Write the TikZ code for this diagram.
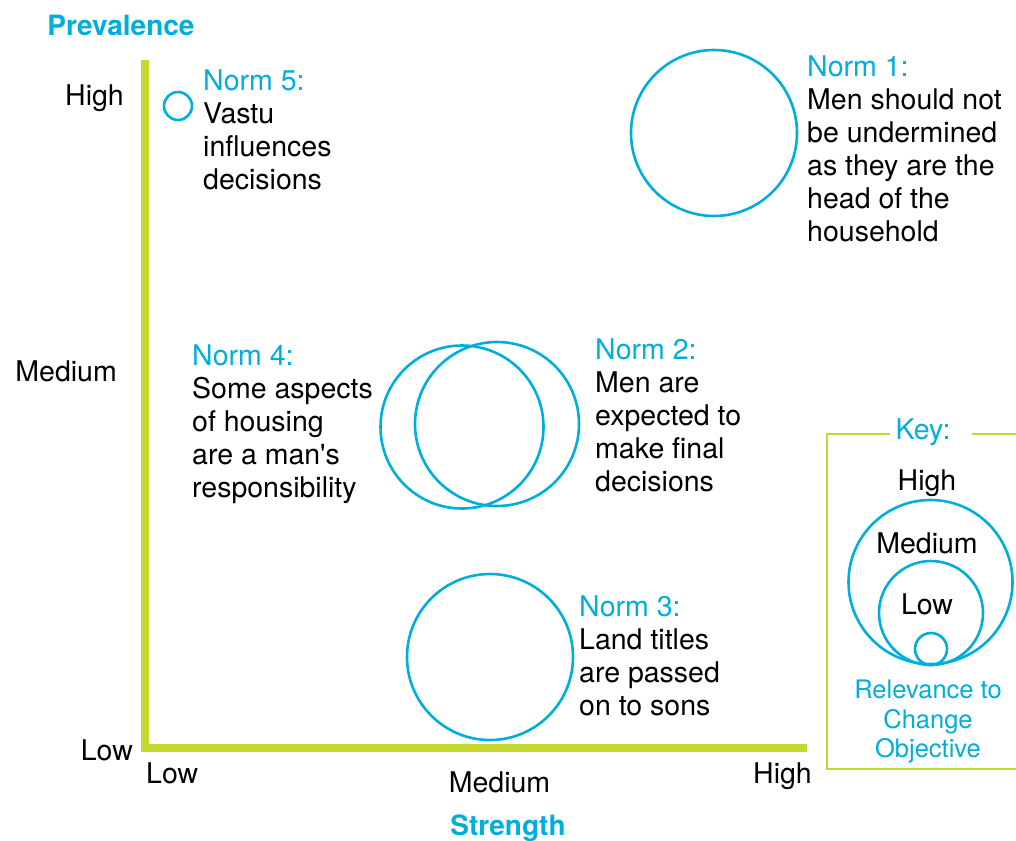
\documentclass[tikz,border=0pt]{standalone}
\usepackage{fontspec}
\setmainfont{TeX Gyre Heros}
\definecolor{cy}{RGB}{0,174,219}
\definecolor{lime}{RGB}{197,216,47}
\begin{document}
\begin{tikzpicture}[x=1pt,y=-1pt,
  ring/.style={circle,draw=cy,line width=2.6pt,inner sep=0pt,minimum size=#1},
  axisline/.style={draw=lime,line width=8pt},
  keyline/.style={draw=lime,line width=2.8pt},
  lbl/.style={inner sep=0pt,font=\fontsize{28.5}{33}\selectfont},
  block/.style={lbl,align=left,anchor=north west},
  keycap/.style={inner sep=0pt,align=center,text=cy,font=\fontsize{25.5}{29.5}\selectfont},
  head/.style={inner sep=0pt,font=\fontsize{28}{33}\selectfont\bfseries,text=cy},
]
\useasboundingbox (0,0) rectangle (1016,840);
% axes
\coordinate (top) at (145,60);
\coordinate (origin) at (145,748);
\coordinate (right) at (807,748);
\draw[axisline] (top) -- (origin) -- (right);
% axis titles
\node[head,anchor=base] (prev) at (121,36) {Prevalence};
\node[head,anchor=base] (str) at (508,835) {Strength};
% y labels
\node[lbl,anchor=base east] (yhigh) at (124,106) {High};
\node[lbl,anchor=base east] (ymed) at (117,381) {Medium};
\node[lbl,anchor=base east] (ylow) at (133,760) {Low};
% x labels
\node[lbl,anchor=base west] (xlow) at (146,783) {Low};
\node[lbl,anchor=base] (xmed) at (499.5,792) {Medium};
\node[lbl,anchor=base] (xhigh) at (782.5,783) {High};
% circles
\node[ring=28pt] (c5) at (178,106) {};
\node[ring=166pt] (c1) at (714,133) {};
\node[ring=163pt] (c4) at (462,427) {};
\node[ring=164pt] (c2) at (497,424) {};
\node[ring=166pt] (c3) at (490,657) {};
% text blocks
\node[block] (t5) at (203,70) {\textcolor{cy}{Norm 5:}\\Vastu\\influences\\decisions};
\node[block] (t1) at (807,56) {\textcolor{cy}{Norm 1:}\\Men should not\\be undermined\\as they are the\\head of the\\household};
\node[block] (t4) at (192,345) {\textcolor{cy}{Norm 4:}\\Some aspects\\of housing\\are a man\textquotesingle s\\responsibility};
\node[block] (t2) at (595,339) {\textcolor{cy}{Norm 2:}\\Men are\\expected to\\make final\\decisions};
\node[block] (t3) at (579,596) {\textcolor{cy}{Norm 3:}\\Land titles\\are passed\\on to sons};
% key box
\coordinate (kA) at (890,434);
\coordinate (kB) at (827,434);
\coordinate (kC) at (827,769);
\coordinate (kD) at (1030,769);
\coordinate (kE) at (1030,434);
\coordinate (kF) at (972,434);
\draw[keyline] (kA) -- (kB) -- (kC) -- (kD);
\draw[keyline] (kF) -- (kE);
\node[lbl,anchor=base,text=cy] (key) at (923,439) {Key:};
\node[ring=164pt] (kbig) at (930.5,582) {};
\node[ring=104pt] (kmed) at (931,613) {};
\node[ring=32pt] (ksmall) at (931,649) {};
\node[lbl,anchor=base] (khigh) at (927,490) {High};
\node[lbl,anchor=base] (kmedium) at (927,553) {Medium};
\node[lbl,anchor=base] (klow) at (927,614) {Low};
\node[keycap,anchor=north] (kcap) at (928,680) {Relevance to\\Change\\Objective};
\end{tikzpicture}
\end{document}
